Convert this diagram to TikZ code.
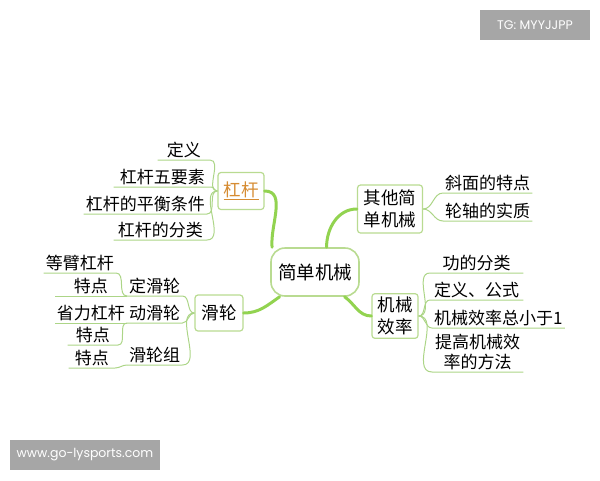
\documentclass[tikz,border=0pt]{standalone}
\usepackage{fontspec}
\usepackage{xcolor}
\usepackage{tikz}
\usetikzlibrary{shapes,positioning}
\setmainfont{Noto Sans CJK SC}
\newfontfamily\wmfont{Poppins}
\definecolor{boxgreen}{RGB}{185, 219, 145}
\definecolor{thickgreen}{RGB}{146, 211, 80}
\definecolor{thingreen}{RGB}{172, 213, 135}
\definecolor{linkorange}{RGB}{214, 140, 50}
\definecolor{wmgray}{RGB}{166, 166, 166}
\tikzstyle{topic} = [rectangle, rounded corners=14pt, draw=boxgreen, line width=1.6pt, fill=white, text=black, text centered, font=\fontsize{18.5}{22}\selectfont, minimum width=88pt, minimum height=48pt]
\tikzstyle{branch} = [rectangle, rounded corners=3pt, draw=boxgreen, line width=1.2pt, fill=white, text=black, align=center, font=\fontsize{17.5}{22.5}\selectfont, inner sep=3pt]
\tikzstyle{leaf} = [draw=none, fill=none, text=black, align=center, font=\fontsize{17}{20.5}\selectfont, inner xsep=2pt, inner ysep=1.5pt]
\tikzstyle{bedge} = [draw=thickgreen, line width=3pt, line cap=round]
\tikzstyle{ledge} = [draw=thingreen, line width=1pt]
\tikzstyle{wmbox} = [rectangle, fill=wmgray, text=white, font=\wmfont\fontsize{12.5}{14}\selectfont]

\begin{document}
\begin{tikzpicture}[x=1pt, y=-1pt]

\useasboundingbox (0,0) rectangle (600,480);

% watermarks =============================
\node[wmbox, minimum width=110pt, minimum height=30pt] (tg) at (535,25) {TG: MYYJJPP};
\node[wmbox, minimum width=150pt, minimum height=30pt] (www) at (85,455) {www.go-lysports.com};

% main topics =============================

% centre
\node[topic] (jd) at (315,272) {简单机械};

% branches
\node[branch, minimum width=46pt, minimum height=37pt] (gg) at (241,191) {\textcolor{linkorange}{\underline{杠杆}}};
\node[branch, minimum width=48pt, minimum height=36pt] (hl) at (219,313) {滑轮};
\node[branch, minimum width=65pt, minimum height=48pt] (qt) at (390,209) {其他简\\单机械};
\node[branch, minimum width=46pt, minimum height=44pt] (xl) at (395,316) {机械\\效率};

% leaves of gg
\node[leaf, inner xsep=9pt, anchor=south east] (gg1) at (210,160) {定义};
\node[leaf, inner xsep=6pt, anchor=south east] (gg2) at (211,187) {杠杆五要素};
\node[leaf, anchor=south east] (gg3) at (207,214) {杠杆的平衡条件};
\node[leaf, inner xsep=4pt, anchor=south east] (gg4) at (207,240) {杠杆的分类};

% leaves of hl
\node[leaf, anchor=south west] (dh) at (127,296) {定滑轮};
\node[leaf, anchor=south east] (dh1) at (116,273) {等臂杠杆};
\node[leaf, minimum width=72pt, anchor=south east] (dh2) at (127,296) {特点};
\node[leaf, anchor=south west] (dg) at (127,323) {动滑轮};
\node[leaf, anchor=south east] (dg1) at (127,323) {省力杠杆};
\node[leaf, inner xsep=8pt, anchor=south east] (dg2) at (118,345) {特点};
\node[leaf, anchor=south west] (hz) at (127,365) {滑轮组};
\node[leaf, inner xsep=6pt, anchor=south east] (hz1) at (115,368) {特点};

% leaves of qt
\node[leaf, anchor=south west] (qt1) at (443,193) {斜面的特点};
\node[leaf, anchor=south west] (qt2) at (443,221) {轮轴的实质};

% leaves of xl
\node[leaf, minimum width=93pt, anchor=south west] (xl1) at (430,273) {功的分类};
\node[leaf, minimum width=93pt, anchor=south west] (xl2) at (430,300) {定义、公式};
\node[leaf, anchor=south west] (xl3) at (432,328) {机械效率总小于1};
\node[leaf, minimum width=91pt, anchor=south west] (xl4) at (432,372) {提高机械效\\率的方法};

% edges centre to branches
\path[bedge] (jd.150) to[out=95, in=0] (gg.east);
\path[bedge] (jd.215) to[out=215, in=0] (hl.east);
\path[bedge] (jd.65) to[out=90, in=180] (qt.west);
\path[bedge] (jd.320) to[out=-35, in=180] (xl.west);

% edges gg to leaves
\path[ledge] (gg.west) to[out=180, in=0] (gg1.south east) -- (gg1.south west);
\path[ledge] (gg.west) to[out=180, in=0] (gg2.south east) -- (gg2.south west);
\path[ledge] (gg.west) to[out=180, in=0] (gg3.south east) -- (gg3.south west);
\path[ledge] (gg.west) to[out=180, in=0] (gg4.south east) -- (gg4.south west);

% edges hl to leaves
\path[ledge] (hl.west) to[out=180, in=0] (dh.south east) -- (dh.south west);
\path[ledge] (hl.west) to[out=180, in=0] (dg.south east) -- (dg.south west);
\path[ledge] (hl.west) to[out=180, in=0] (hz.south east) -- (hz.south west);

\path[ledge] (dh.south west) to[out=180, in=0] (dh1.south east) -- (dh1.south west);
\path[ledge] (dh.south west) -- (dh2.south west);
\path[ledge] (dg.south west) -- (dg1.south west);
\path[ledge] (dg.south west) to[out=180, in=0] (dg2.south east) -- (dg2.south west);
\path[ledge] (hz.south west) to[out=180, in=0] (hz1.south east) -- (hz1.south west);

% edges qt to leaves
\path[ledge] (qt.east) to[out=0, in=180] (qt1.south west) -- (qt1.south east);
\path[ledge] (qt.east) to[out=0, in=180] (qt2.south west) -- (qt2.south east);

% edges xl to leaves
\path[ledge] (xl.east) to[out=0, in=180] (xl1.south west) -- (xl1.south east);
\path[ledge] (xl.east) to[out=0, in=180] (xl2.south west) -- (xl2.south east);
\path[ledge] (xl.east) to[out=0, in=180] (xl3.south west) -- (xl3.south east);
\path[ledge] (xl.east) to[out=0, in=180] (xl4.south west) -- (xl4.south east);

\end{tikzpicture}
\end{document}
